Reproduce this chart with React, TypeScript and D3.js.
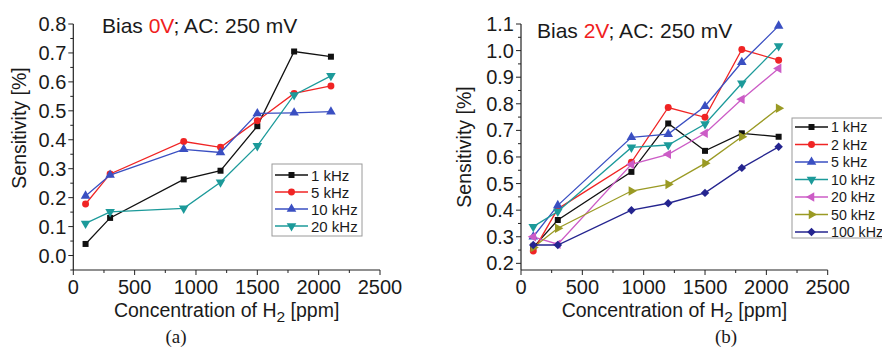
import React from "react";
import * as d3 from "d3";

// H2 concentrations shared by both panels [ppm]
const concentrations = [100, 300, 900, 1200, 1500, 1800, 2100];
const xTicks = [0, 500, 1000, 1500, 2000, 2500];

// panel (a): bias 0 V
const a1kHz = [0.04, 0.13, 0.263, 0.293, 0.447, 0.705, 0.687];
const a5kHz = [0.178, 0.282, 0.394, 0.374, 0.466, 0.56, 0.586];
const a10kHz = [0.206, 0.278, 0.367, 0.356, 0.491, 0.493, 0.497];
const a20kHz = [0.111, 0.151, 0.163, 0.253, 0.379, 0.555, 0.621];
const aTicks = [0.0, 0.1, 0.2, 0.3, 0.4, 0.5, 0.6, 0.7, 0.8];

// panel (b): bias 2 V
const b1kHz = [0.26, 0.363, 0.544, 0.726, 0.623, 0.689, 0.676];
const b2kHz = [0.246, 0.405, 0.58, 0.786, 0.749, 1.004, 0.964];
const b5kHz = [0.3, 0.418, 0.674, 0.686, 0.791, 0.956, 1.093];
const b10kHz = [0.338, 0.395, 0.636, 0.645, 0.724, 0.877, 1.017];
const b20kHz = [0.3, 0.272, 0.572, 0.61, 0.689, 0.817, 0.933];
const b50kHz = [0.26, 0.332, 0.472, 0.497, 0.576, 0.676, 0.783];
const b100kHz = [0.269, 0.269, 0.4, 0.426, 0.465, 0.559, 0.638];
const bTicks = [0.2, 0.3, 0.4, 0.5, 0.6, 0.7, 0.8, 0.9, 1.0, 1.1];

const FONT = "'Liberation Sans', Arial, sans-serif";
const TOP = 24;
const BOTTOM = 270;
const TICK_FONT = 20;

type Marker = "square" | "circle" | "up" | "down" | "left" | "right" | "diamond";

interface Series {
  name: string;
  values: number[];
  color: string;
  marker: Marker;
}

const seriesA: Series[] = [
  { name: "1 kHz", values: a1kHz, color: "#111111", marker: "square" },
  { name: "5 kHz", values: a5kHz, color: "#f02424", marker: "circle" },
  { name: "10 kHz", values: a10kHz, color: "#3a4fc2", marker: "up" },
  { name: "20 kHz", values: a20kHz, color: "#1c9a9a", marker: "down" },
];

const seriesB: Series[] = [
  { name: "1 kHz", values: b1kHz, color: "#111111", marker: "square" },
  { name: "2 kHz", values: b2kHz, color: "#f02424", marker: "circle" },
  { name: "5 kHz", values: b5kHz, color: "#3a4fc2", marker: "up" },
  { name: "10 kHz", values: b10kHz, color: "#1c9a9a", marker: "down" },
  { name: "20 kHz", values: b20kHz, color: "#cc5cc6", marker: "left" },
  { name: "50 kHz", values: b50kHz, color: "#9a9a24", marker: "right" },
  { name: "100 kHz", values: b100kHz, color: "#24248f", marker: "diamond" },
];

const symbolPath = (m: Marker) => {
  if (m === "square" || m === "diamond") return d3.symbol(d3.symbolSquare, 36)()!;
  if (m === "circle") return d3.symbol(d3.symbolCircle, 38)()!;
  return d3.symbol(d3.symbolTriangle, 40)()!;
};

const symbolRotation = (m: Marker) => {
  switch (m) {
    case "down":
      return 180;
    case "left":
      return -90;
    case "right":
      return 90;
    case "diamond":
      return 45;
    default:
      return 0;
  }
};

const MarkerShape = ({ m, x, y, color }: { m: Marker; x: number; y: number; color: string }) => (
  <path
    d={symbolPath(m)}
    transform={`translate(${x},${y}) rotate(${symbolRotation(m)})`}
    fill={color}
  />
);

interface PanelProps {
  xRange: [number, number];
  yDomain: [number, number];
  yTicks: number[];
  series: Series[];
  bias: string;
  titleX: number;
  titleY: number;
  legend: { x: number; y: number; w: number; h: number; row0: number; step: number; fontSize: number };
  yTitleX: number;
  yTitleY: number;
  label: string;
  labelX: number;
}

const Panel = ({
  xRange,
  yDomain,
  yTicks,
  series,
  bias,
  titleX,
  titleY,
  legend,
  yTitleX,
  yTitleY,
  label,
  labelX,
}: PanelProps) => {
  const xScale = d3.scaleLinear().domain([0, 2500]).range(xRange);
  const yScale = d3.scaleLinear().domain(yDomain).range([BOTTOM, TOP]);
  const x0 = xRange[0];

  const xMinor = d3.range(250, 2500, 500);
  const yMinor = yTicks.slice(0, -1).map((t) => t + 0.05);
  if (yDomain[0] < yTicks[0] - 0.05 + 1e-9) yMinor.unshift(yTicks[0] - 0.05);

  const line = d3
    .line<number>()
    .x((_, i) => xScale(concentrations[i]))
    .y((v) => yScale(v));

  const yTop = yScale(yTicks[yTicks.length - 1]);
  const midX = (xRange[0] + xRange[1]) / 2;

  return (
    <g fontFamily={FONT}>
      {/* axes */}
      <line x1={x0} x2={x0} y1={BOTTOM} y2={yTop} stroke="#222" strokeWidth={1.2} />
      <line x1={x0} x2={xRange[1]} y1={BOTTOM} y2={BOTTOM} stroke="#222" strokeWidth={1.2} />

      {xTicks.map((t) => (
        <g key={`xt${t}`}>
          <line x1={xScale(t)} x2={xScale(t)} y1={BOTTOM} y2={BOTTOM + 5} stroke="#222" />
          <text x={xScale(t)} y={293.5} textAnchor="middle" fontSize={TICK_FONT} fill="#1a1a1a">
            {t}
          </text>
        </g>
      ))}
      {xMinor.map((t) => (
        <line key={`xm${t}`} x1={xScale(t)} x2={xScale(t)} y1={BOTTOM} y2={BOTTOM + 3} stroke="#222" />
      ))}

      {yTicks.map((t) => (
        <g key={`yt${t}`}>
          <line x1={x0 - 5} x2={x0} y1={yScale(t)} y2={yScale(t)} stroke="#222" />
          <text
            x={x0 - 7}
            y={yScale(t)}
            textAnchor="end"
            dominantBaseline="central"
            fontSize={TICK_FONT}
            fill="#1a1a1a"
          >
            {t.toFixed(1)}
          </text>
        </g>
      ))}
      {yMinor.map((t) => (
        <line key={`ym${t}`} x1={x0 - 3} x2={x0} y1={yScale(t)} y2={yScale(t)} stroke="#222" />
      ))}

      {/* axis titles */}
      <text x={midX} y={316.5} textAnchor="middle" fontSize={19.5} fill="#1a1a1a">
        Concentration of H
        <tspan fontSize={15.5} dy={5}>
          2
        </tspan>
        <tspan dy={-5}> [ppm]</tspan>
      </text>
      <text
        transform={`translate(${yTitleX},${yTitleY}) rotate(-90)`}
        textAnchor="middle"
        fontSize={19.5}
        fill="#1a1a1a"
      >
        Sensitivity [%]
      </text>

      {/* title */}
      <text x={titleX} y={titleY} fontSize={21} fill="#1a1a1a">
        Bias <tspan fill="#f02020">{bias}</tspan>; AC: 250 mV
      </text>

      {/* series */}
      {series.map((s) => (
        <g key={s.name}>
          <path d={line(s.values)!} fill="none" stroke={s.color} strokeWidth={1.3} />
          {s.values.map((v, i) => (
            <MarkerShape key={i} m={s.marker} x={xScale(concentrations[i])} y={yScale(v)} color={s.color} />
          ))}
        </g>
      ))}

      {/* legend */}
      <rect
        x={legend.x}
        y={legend.y}
        width={legend.w}
        height={legend.h}
        fill="white"
        stroke="#9a9a9a"
        strokeWidth={1}
      />
      {series.map((s, i) => {
        const ly = legend.row0 + i * legend.step;
        return (
          <g key={`lg${s.name}`}>
            <line x1={legend.x + 3} x2={legend.x + 36} y1={ly} y2={ly} stroke={s.color} strokeWidth={1.3} />
            <MarkerShape m={s.marker} x={legend.x + 19.5} y={ly} color={s.color} />
            <text
              x={legend.x + 39}
              y={ly}
              dominantBaseline="central"
              fontSize={legend.fontSize}
              fill="#1a1a1a"
            >
              {s.name}
            </text>
          </g>
        );
      })}

      <text
        x={labelX}
        y={343}
        textAnchor="middle"
        fontSize={19}
        fontFamily="'Liberation Serif', 'Times New Roman', serif"
        fill="#1a1a1a"
      >
        {label}
      </text>
    </g>
  );
};

export default function App() {
  return (
    <svg
      width={882}
      height={350}
      style={{ position: "absolute", left: 0, top: 0, background: "white" }}
    >
      <rect width={882} height={350} fill="white" />
      <Panel
        xRange={[73.3, 380]}
        yDomain={[-0.05, 0.8]}
        yTicks={aTicks}
        series={seriesA}
        bias="0V"
        titleX={102}
        titleY={33}
        legend={{ x: 272, y: 164, w: 90, h: 72, row0: 175, step: 17, fontSize: 15 }}
        yTitleX={26}
        yTitleY={128}
        label="(a)"
        labelX={176}
      />
      <Panel
        xRange={[521, 827.7]}
        yDomain={[0.175, 1.1]}
        yTicks={bTicks}
        series={seriesB}
        bias="2V"
        titleX={537}
        titleY={38}
        legend={{ x: 792, y: 118, w: 92, h: 120, row0: 127, step: 17.5, fontSize: 14.2 }}
        yTitleX={471}
        yTitleY={147}
        label="(b)"
        labelX={726}
      />
    </svg>
  );
}
